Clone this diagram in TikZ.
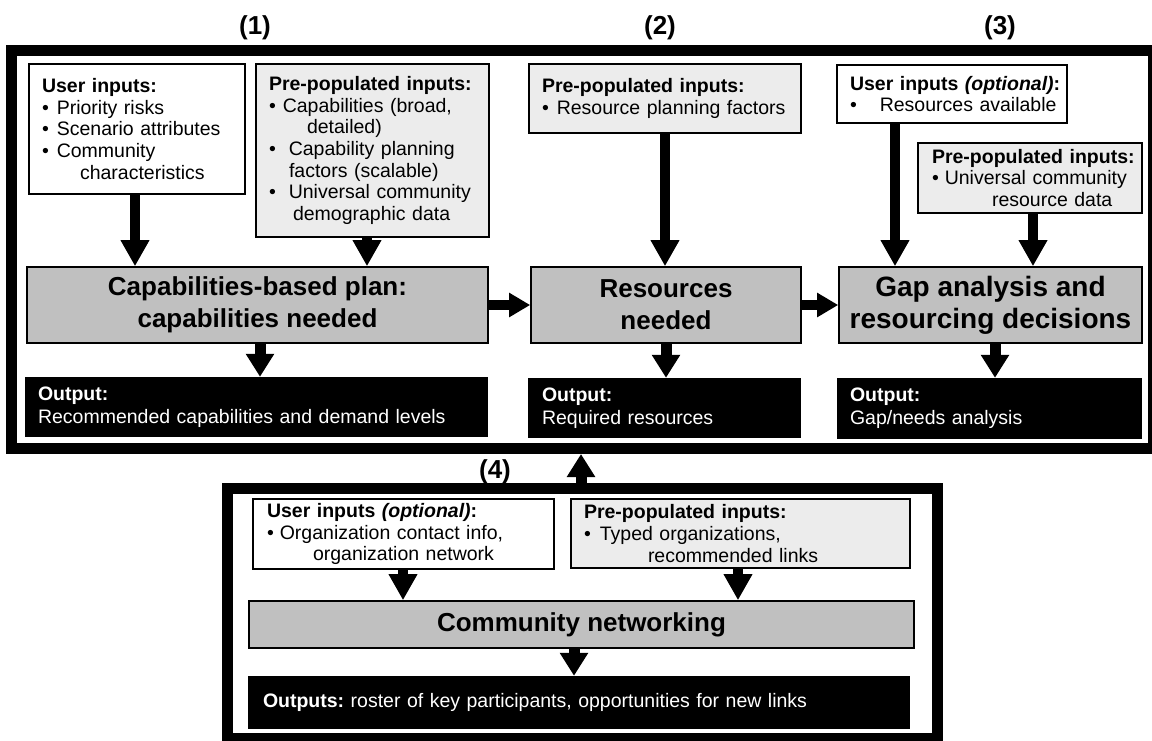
\documentclass[tikz,border=0pt]{standalone}
\usepackage{fontspec}
\setmainfont{Liberation Sans}
\usetikzlibrary{arrows.meta}
\definecolor{lightfill}{RGB}{236,236,236}
\definecolor{procfill}{RGB}{192,192,192}
\newcommand\bul[1]{•\hspace{#1pt}}
\tikzset{
  inbox/.style={draw, line width=1.6pt, align=left, inner ysep=0pt,
    font=\fontsize{19.5pt}{21.7pt}\selectfont},
  userbox/.style={inbox, fill=white},
  prebox/.style={inbox, fill=lightfill},
  procbox/.style={draw, line width=1.6pt, fill=procfill, align=center, inner sep=0pt,
    font=\bfseries\fontsize{26pt}{32pt}\selectfont},
  outbox/.style={fill=black, text=white, align=left, inner ysep=0pt,
    font=\fontsize{19.5pt}{23pt}\selectfont},
  framebox/.style={draw, line width=11pt, inner sep=0pt},
  numlabel/.style={font=\bfseries\fontsize{26pt}{30pt}\selectfont, inner sep=0pt},
  infat/.style={line width=10.5pt, -{Triangle[width=27pt,length=26pt]}},
  outfat/.style={line width=11pt, -{Triangle[width=27pt,length=23pt]}},
  hfat/.style={line width=10pt, -{Triangle[width=23pt,length=21pt]}},
}
\begin{document}
\frenchspacing
\begin{tikzpicture}[x=1pt,y=-1pt]
\useasboundingbox (0,0) rectangle (1152,740);

% frames
\node[framebox, minimum width=1142pt, minimum height=398.5pt] (F1) at (582.5,249.25) {};
\node[framebox, minimum width=710pt, minimum height=250pt] (F4) at (582,613.5) {};

% numbers
\node[numlabel] (n1) at (255,28) {(1)};
\node[numlabel] (n2) at (660,28) {(2)};
\node[numlabel] (n3) at (1000,28) {(3)};
\node[numlabel] (n4) at (495,472) {(4)};

% column 1
\node[userbox, minimum width=216pt, minimum height=130pt, text width=190pt, inner xsep=13pt] (u1) at (137,129)
 {\mbox{\textbf{User inputs:}}\\
  \mbox{\bul{8}Priority risks}\\
  \mbox{\bul{8}Scenario attributes}\\
  \mbox{\bul{8}Community}\\
  \mbox{\hspace*{38pt}characteristics}};
\node[prebox, minimum width=233pt, minimum height=173pt, text width=207pt, inner xsep=13pt] (p1) at (372.5,150.5)
 {\mbox{\textbf{Pre-populated inputs:}}\\
  \mbox{\bul{7}Capabilities (broad,}\\
  \mbox{\hspace*{38pt}detailed)}\\
  \mbox{\bul{13}Capability planning}\\
  \mbox{\hspace*{20pt}factors (scalable)}\\
  \mbox{\bul{13}Universal community}\\
  \mbox{\hspace*{24pt}demographic data}};
\node[procbox, minimum width=461pt, minimum height=76pt] (cap) at (257.5,305)
 {Capabilities-based plan:\\capabilities needed};
\node[outbox, minimum width=463pt, minimum height=60pt, text width=437pt, inner xsep=13pt] (o1) at (256.5,407)
 {\mbox{\textbf{Output:}}\\\mbox{Recommended capabilities and demand levels}};

% column 2
\node[prebox, minimum width=272pt, minimum height=69pt, text width=246pt, inner xsep=13pt] (p2) at (665,98.5)
 {\mbox{\textbf{Pre-populated inputs:}}\\
  \mbox{\bul{8}Resource planning factors}};
\node[procbox, minimum width=270pt, minimum height=76pt] (res) at (666,305)
 {Resources\\needed};
\node[outbox, minimum width=273pt, minimum height=60pt, text width=245pt, inner xsep=14pt] (o2) at (664.5,408)
 {\mbox{\textbf{Output:}}\\\mbox{Required resources}};

% column 3
\node[userbox, minimum width=230pt, minimum height=58pt, text width=204pt, inner xsep=13pt] (u3) at (952,94)
 {\mbox{\textbf{User inputs \textit{(optional)}:}}\\
  \mbox{\bul{23}Resources available}};
\node[prebox, minimum width=224pt, minimum height=70pt, text width=196pt, inner xsep=14pt] (p3) at (1030,178)
 {\mbox{\textbf{Pre-populated inputs:}}\\
  \mbox{\bul{6}Universal community}\\
  \mbox{\hspace*{60pt}resource data}};
\node[procbox, minimum width=303pt, minimum height=76pt, font=\bfseries\fontsize{28pt}{32pt}\selectfont] (gap) at (990.5,305)
 {Gap analysis and\\resourcing decisions};
\node[outbox, minimum width=305pt, minimum height=61pt, text width=279pt, inner xsep=13pt] (o3) at (989.5,408.5)
 {\mbox{\textbf{Output:}}\\\mbox{Gap/needs analysis}};

% column 4
\node[userbox, minimum width=301pt, minimum height=70pt, text width=273pt, inner xsep=14pt] (u4) at (403.5,534)
 {\mbox{\textbf{User inputs \textit{(optional)}:}}\\
  \mbox{\bul{6}Organization contact info,}\\
  \mbox{\hspace*{46pt}organization network}};
\node[prebox, minimum width=339pt, minimum height=69pt, text width=313pt, inner xsep=13pt] (p4) at (740.5,533.5)
 {\mbox{\textbf{Pre-populated inputs:}}\\
  \mbox{\bul{9}Typed organizations,}\\
  \mbox{\hspace*{64pt}recommended links}};
\node[procbox, minimum width=665pt, minimum height=47pt] (net) at (581.5,624.5)
 {Community networking};
\node[outbox, minimum width=662pt, minimum height=53pt, text width=632pt, inner xsep=15pt] (o4) at (579,702.5)
 {\mbox{\textbf{Outputs:} roster of key participants, opportunities for new links}};

% arrow x positions
\coordinate (a1) at (135,0);
\coordinate (a2) at (367,0);
\coordinate (a3) at (260,0);
\coordinate (a4) at (665,0);
\coordinate (a5) at (666,0);
\coordinate (a6) at (895,0);
\coordinate (a7) at (1033,0);
\coordinate (a8) at (995,0);
\coordinate (a9) at (403,0);
\coordinate (a10) at (738,0);
\coordinate (a11) at (574,0);
\coordinate (a12) at (581,0);

\draw[infat] (u1.south -| a1) -- (cap.north -| a1);
\draw[infat] (p1.south -| a2) -- (cap.north -| a2);
\draw[outfat] (cap.south -| a3) -- (o1.north -| a3);
\draw[infat] (p2.south -| a4) -- (res.north -| a4);
\draw[outfat] (res.south -| a5) -- (o2.north -| a5);
\draw[infat] (u3.south -| a6) -- (gap.north -| a6);
\draw[infat] (p3.south -| a7) -- (gap.north -| a7);
\draw[outfat] (gap.south -| a8) -- (o3.north -| a8);
\draw[hfat] (cap.east) -- (res.west);
\draw[hfat] (res.east) -- (gap.west);
\draw[infat] (u4.south -| a9) -- (net.north -| a9);
\draw[infat] (p4.south -| a10) -- (net.north -| a10);
\draw[outfat] (net.south -| a11) -- (o4.north -| a11);
\draw[outfat] (F4.north -| a12) -- (F1.south -| a12);
\end{tikzpicture}
\end{document}
